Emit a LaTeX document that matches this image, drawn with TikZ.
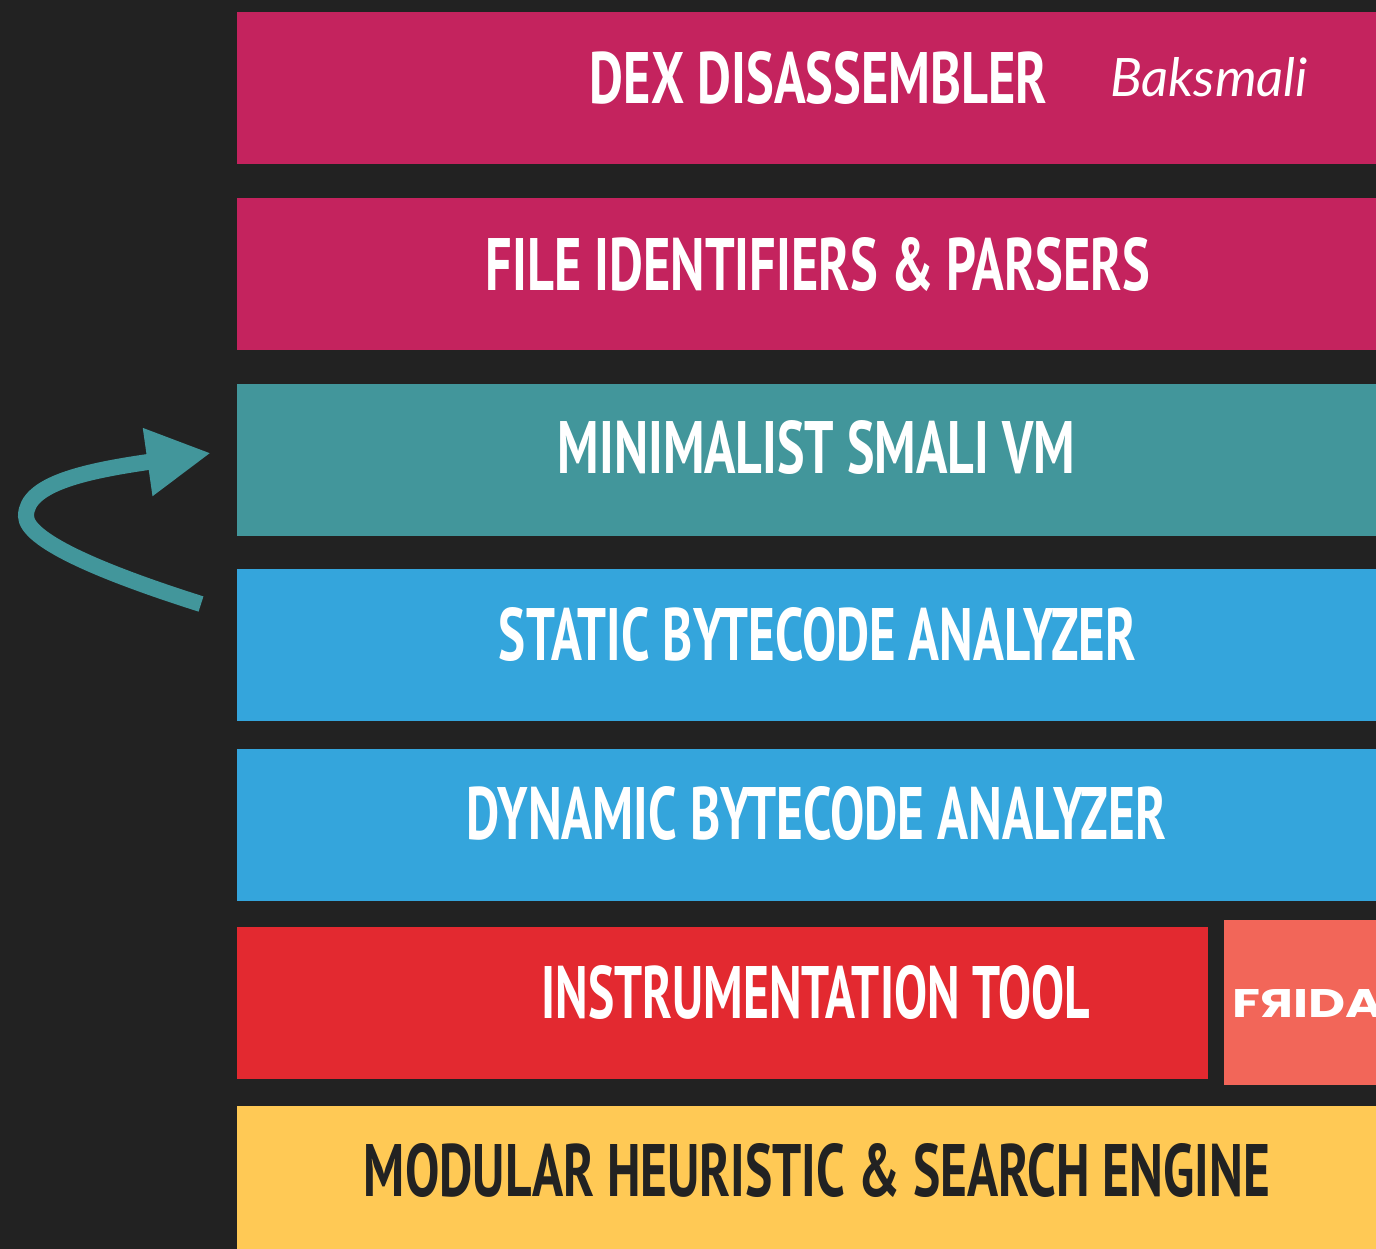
\documentclass[tikz,border=0pt]{standalone}
\usepackage{graphicx}
\usepackage{fontspec}
\setmainfont{PT Sans}
\newfontfamily\bakfont{Lato}
\newfontfamily\fridafont{Poppins}
\usetikzlibrary{arrows.meta}
\definecolor{bgc}{HTML}{222222}
\definecolor{crim}{HTML}{C4235E}
\definecolor{tealc}{HTML}{42969B}
\definecolor{bluec}{HTML}{34A5DC}
\definecolor{redc}{HTML}{E32930}
\definecolor{fridac}{HTML}{F26659}
\definecolor{yellowc}{HTML}{FFC955}
\newcommand{\fitbox}[3]{\resizebox{#1pt}{#2pt}{\bfseries #3}}
\tikzset{
  band/.style={anchor=north west,inner sep=0pt,outer sep=0pt,minimum width=#1},
  band/.default=1139pt,
  title/.style={inner sep=0pt,outer sep=0pt,text=white},
  loopline/.style={draw=tealc,line width=16pt,-{Triangle[length=64pt,width=64pt]}}
}
\begin{document}
\begin{tikzpicture}[x=1pt,y=-1pt]
\useasboundingbox (0,0) rectangle (1376,1249);
\fill[bgc] (0,0) rectangle (1376,1249);
\clip (0,0) rectangle (1376,1249);
\node[band,fill=crim,minimum height=152pt] (dexbox) at (237,12) {};
\node[band,fill=crim,minimum height=152pt] (filebox) at (237,198) {};
\node[band,fill=tealc,minimum height=152pt] (vmbox) at (237,384) {};
\node[band,fill=bluec,minimum height=152pt] (staticbox) at (237,569) {};
\node[band,fill=bluec,minimum height=152pt] (dynbox) at (237,749) {};
\node[band=971pt,fill=redc,minimum height=152pt] (instbox) at (237,927) {};
\node[band=152pt,fill=fridac,minimum height=165pt] (fridabox) at (1224,920) {};
\node[band,fill=yellowc,minimum height=143pt] (modbox) at (237,1106) {};

\node[title] (dext) at (818.5,78) {\fitbox{457}{52}{DEX DISASSEMBLER}};
\node[title,anchor=west,font=\bakfont\itshape\fontsize{53}{60}\selectfont] (bak) at (1110,77) {Baksmali};
\node[title] (filet) at (818,264.5) {\fitbox{664}{53}{FILE IDENTIFIERS \& PARSERS}};
\node[title] (vmt) at (816.5,447.5) {\fitbox{517}{53}{MINIMALIST SMALI VM}};
\node[title] (statict) at (817.5,634.5) {\fitbox{637}{53}{STATIC BYTECODE ANALYZER}};
\node[title] (dynt) at (816.5,813.5) {\fitbox{699}{53}{DYNAMIC BYTECODE ANALYZER}};
\node[title] (instt) at (816,992.5) {\fitbox{548}{53}{INSTRUMENTATION TOOL}};
\node[title,text=bgc] (modt) at (817,1170.5) {\fitbox{906}{53}{MODULAR HEURISTIC \& SEARCH ENGINE}};
\node[title,anchor=west] (frida) at (1232,1003) {\resizebox{151pt}{28pt}{\fridafont\bfseries F\reflectbox{R}IDA}};

\coordinate (loopstart) at (201,604);
\coordinate (loopend) at (211,453);
\draw[loopline] (loopstart) .. controls (100,572) and (26,540) .. (26,516) .. controls (26,484) and (85,471) .. (loopend);
\end{tikzpicture}
\end{document}
